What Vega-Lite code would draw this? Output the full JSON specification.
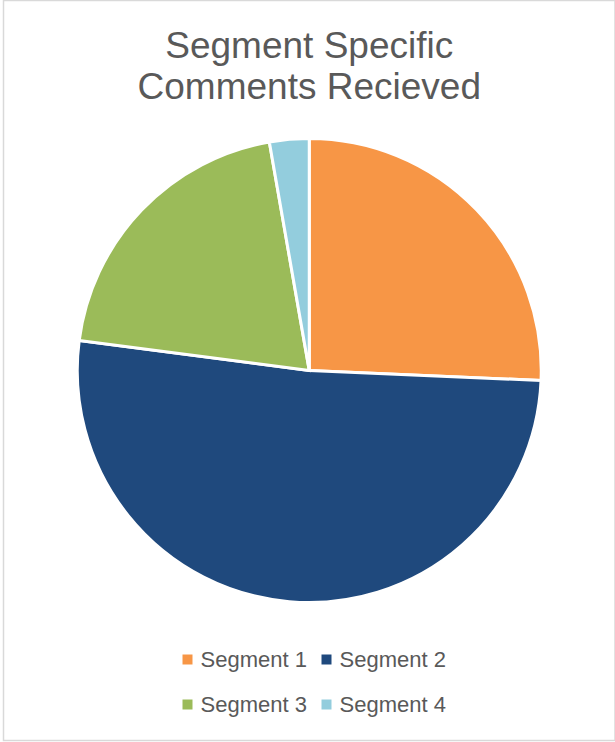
{
  "$schema": "https://vega.github.io/schema/vega-lite/v6.json",
  "autosize": "none",
  "width": 611.5,
  "height": 740,
  "padding": {"left": 3.5, "top": 0.5, "right": 0, "bottom": 1.5},
  "background": "white",
  "title": {
    "text": ["Segment Specific", "Comments Recieved"],
    "frame": "group",
    "anchor": "middle",
    "orient": "top",
    "baseline": "alphabetic",
    "offset": -135,
    "font": "Liberation Sans",
    "fontSize": 37,
    "fontWeight": "normal",
    "lineHeight": 41,
    "color": "#595959"
  },
  "data": {
    "values": [
      {"segment": "Segment 1", "count": 28},
      {"segment": "Segment 2", "count": 56},
      {"segment": "Segment 3", "count": 22},
      {"segment": "Segment 4", "count": 3}
    ]
  },
  "mark": {"type": "arc", "outerRadius": 232, "stroke": "white", "strokeWidth": 3},
  "encoding": {
    "theta": {"field": "count", "type": "quantitative", "stack": true},
    "order": {"field": "segment", "type": "nominal", "sort": "ascending"},
    "color": {
      "field": "segment",
      "type": "nominal",
      "scale": {
        "domain": ["Segment 1", "Segment 2", "Segment 3", "Segment 4"],
        "range": ["#F79646", "#1F497D", "#9BBB59", "#93CDDD"]
      },
      "legend": {
        "title": null,
        "orient": "none",
        "legendX": 173,
        "legendY": 648,
        "direction": "horizontal",
        "columns": 2,
        "symbolType": "square",
        "symbolSize": 100,
        "symbolStrokeWidth": 0,
        "labelOffset": 2,
        "labelFont": "Liberation Sans",
        "labelFontSize": 22,
        "labelColor": "#595959",
        "columnPadding": 8,
        "rowPadding": 23,
        "padding": 0
      }
    }
  },
  "view": {"stroke": "#d9d9d9", "strokeWidth": 1.5}
}
